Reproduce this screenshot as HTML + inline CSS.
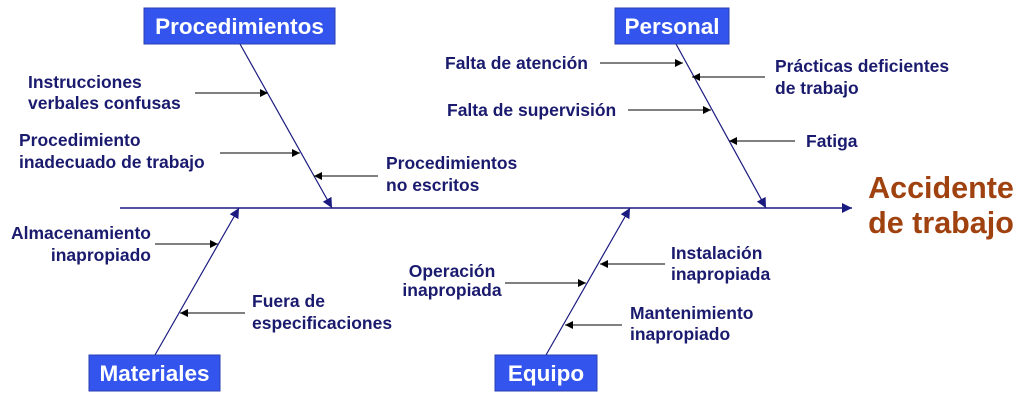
<!DOCTYPE html>
<html><head><meta charset="utf-8"><style>
html,body{margin:0;padding:0;background:#fff;}
svg{display:block}
text{font-family:"Liberation Sans",Arial,sans-serif;font-weight:bold;}
.t{fill:#1a1a6e;font-size:17.5px;}
.b{fill:#fff;font-size:22.5px;}
</style></head><body>
<svg width="1024" height="400" viewBox="0 0 1024 400" xmlns="http://www.w3.org/2000/svg">
<defs>
<marker id="a" viewBox="0 0 10 10" refX="10" refY="5" markerWidth="8" markerHeight="8" orient="auto" markerUnits="userSpaceOnUse"><path d="M0,0L10,5L0,10z" fill="#000"/></marker>
<marker id="n" viewBox="0 0 10 10" refX="10" refY="5" markerWidth="10" markerHeight="10" orient="auto" markerUnits="userSpaceOnUse"><path d="M0,0L10,5L0,10z" fill="#1a1a80"/></marker>
</defs>
<line x1="120" y1="208" x2="852" y2="208" stroke="#1a1a80" stroke-width="1.4" marker-end="url(#n)"/>
<g stroke="#1a1a80" stroke-width="1.2">
<line x1="240" y1="44" x2="332" y2="208" marker-end="url(#n)"/>
<line x1="676" y1="44" x2="766" y2="208" marker-end="url(#n)"/>
<line x1="155" y1="355" x2="239" y2="208" marker-end="url(#n)"/>
<line x1="546" y1="355" x2="630" y2="208" marker-end="url(#n)"/>
</g>
<g stroke="#000" stroke-width="1" marker-end="url(#a)">
<line x1="195" y1="93" x2="268" y2="93"/>
<line x1="220" y1="153" x2="300" y2="153"/>
<line x1="378" y1="176" x2="314" y2="176"/>
<line x1="600" y1="63" x2="683" y2="63"/>
<line x1="765" y1="77" x2="692" y2="77"/>
<line x1="628" y1="110" x2="711" y2="110"/>
<line x1="795" y1="141" x2="729" y2="141"/>
<line x1="155" y1="244" x2="218" y2="244"/>
<line x1="245" y1="313" x2="180" y2="313"/>
<line x1="505" y1="283" x2="586" y2="283"/>
<line x1="665" y1="264" x2="600" y2="264"/>
<line x1="622" y1="325" x2="565" y2="325"/>
</g>
<g fill="#3355ee" stroke="#2a3fb0" stroke-width="1">
<rect x="144" y="8" width="191" height="36"/>
<rect x="615" y="8" width="114" height="36"/>
<rect x="89" y="355" width="131" height="36"/>
<rect x="495" y="355" width="102" height="36"/>
</g>
<text class="b" x="239.5" y="34" text-anchor="middle">Procedimientos</text>
<text class="b" x="672" y="34" text-anchor="middle">Personal</text>
<text class="b" x="154.5" y="381" text-anchor="middle">Materiales</text>
<text class="b" x="546" y="381" text-anchor="middle">Equipo</text>
<text class="t" x="28" y="88">Instrucciones</text>
<text class="t" x="28" y="109">verbales confusas</text>
<text class="t" x="19" y="146">Procedimiento</text>
<text class="t" x="19" y="168">inadecuado de trabajo</text>
<text class="t" x="386" y="169">Procedimientos</text>
<text class="t" x="386" y="191">no escritos</text>
<text class="t" x="445" y="69">Falta de atención</text>
<text class="t" x="447" y="116">Falta de supervisión</text>
<text class="t" x="775" y="72">Prácticas deficientes</text>
<text class="t" x="775" y="94">de trabajo</text>
<text class="t" x="806" y="147">Fatiga</text>
<text class="t" x="151" y="239" text-anchor="end">Almacenamiento</text>
<text class="t" x="151" y="261" text-anchor="end">inapropiado</text>
<text class="t" x="252" y="307">Fuera de</text>
<text class="t" x="252" y="329">especificaciones</text>
<text class="t" x="452" y="277" text-anchor="middle">Operación</text>
<text class="t" x="452" y="296" text-anchor="middle">inapropiada</text>
<text class="t" x="671" y="259">Instalación</text>
<text class="t" x="671" y="280">inapropiada</text>
<text class="t" x="630" y="319">Mantenimiento</text>
<text class="t" x="630" y="340">inapropiado</text>
<text x="941" y="198" text-anchor="middle" fill="#a0420f" font-size="30.5">Accidente</text>
<text x="941" y="233" text-anchor="middle" fill="#a0420f" font-size="30.5">de trabajo</text>
</svg>
</body></html>
